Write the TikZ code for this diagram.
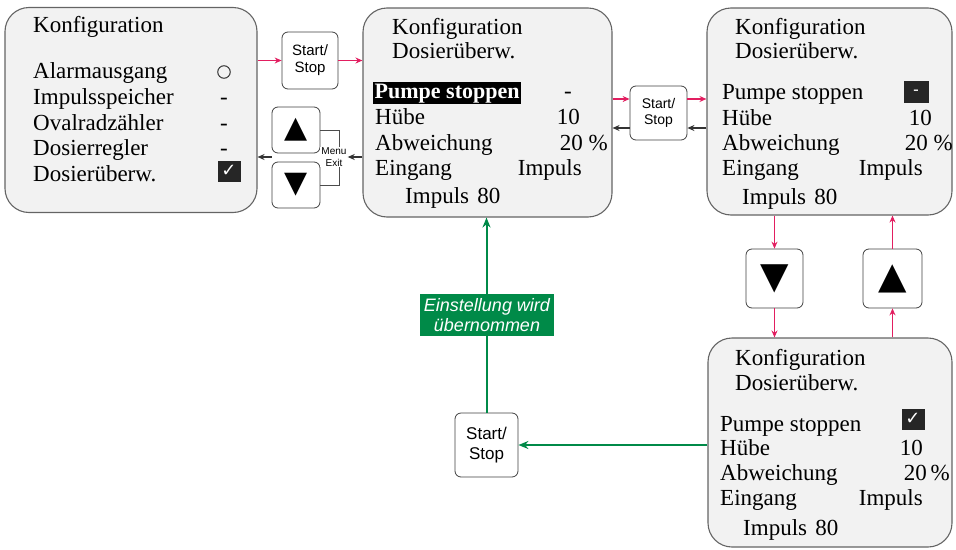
\documentclass[tikz,border=0pt]{standalone}
\usepackage{fontspec}
\setmainfont{Liberation Serif}
\setsansfont{Liberation Sans}
\newfontfamily\symfont{DejaVu Sans}
\usetikzlibrary{arrows.meta,positioning}
\definecolor{scrgray}{RGB}{242,242,242}
\definecolor{scrline}{RGB}{100,100,100}
\definecolor{keypink}{RGB}{226,30,96}
\definecolor{okgreen}{RGB}{0,138,72}

\begin{document}
\begin{tikzpicture}[x=1pt, y=-1pt,
    screen/.style={rectangle, rounded corners=24pt, draw=scrline, fill=scrgray, line width=1.1pt, inner sep=0pt},
    key/.style={rectangle, rounded corners=6pt, draw=black!75, fill=white, line width=0.8pt, inner sep=0pt, align=center, font=\sffamily\fontsize{15}{17}\selectfont},
    arrowkey/.style={key, font=\symfont\fontsize{30}{30}\selectfont},
    ln/.style={anchor=base west, inner sep=0pt, font=\fontsize{23}{25}\selectfont},
    vl/.style={anchor=base east, inner sep=0pt, font=\fontsize{23}{25}\selectfont},
    mid/.style={anchor=base, inner sep=0pt, font=\fontsize{23}{25}\selectfont},
    flag/.style={rectangle, fill=black!85, minimum width=23pt, minimum height=21pt, inner sep=0pt, text=white, font=\symfont\fontsize{18}{18}\selectfont},
    pk/.style={-{Stealth[length=7pt, width=6pt]}, line width=1.1pt, keypink},
    bk/.style={-{Stealth[length=7pt, width=6pt]}, line width=1.1pt, black!80},
    gr/.style={-{Stealth[length=10pt, width=8pt]}, line width=2pt, okgreen}
  ]
    \useasboundingbox (0,0) rectangle (956,549);

    % screens
    \node[screen, minimum width=252pt, minimum height=205pt] (s1) at (131,110) {};
    \node[screen, minimum width=249pt, minimum height=209pt] (s2) at (487.5,112.5) {};
    \node[screen, minimum width=245pt, minimum height=207pt] (s3) at (829.5,111.5) {};
    \node[screen, minimum width=244pt, minimum height=209pt] (s4) at (830,442.5) {};

    % screen 1
    \node[ln] (s1t) at (33,32) {Konfiguration};
    \node[ln] (s1a) at (33,78) {Alarmausgang};
    \node[ln] (s1b) at (33,104) {Impulsspeicher};
    \node[ln] (s1c) at (33,130) {Ovalradzähler};
    \node[ln] (s1d) at (33,155) {Dosierregler};
    \node[ln] (s1e) at (33,181) {Dosierüberw.};
    \node[circle, draw=black!80, line width=1pt, minimum size=12.5pt, inner sep=0pt] (s1av) at (224,72) {};
    \node[mid] (s1bv) at (224,104) {-};
    \node[mid] (s1cv) at (224,130) {-};
    \node[mid] (s1dv) at (224,155) {-};
    \node[flag] (s1ev) at (229,171) {✓};

    % screen 2
    \node[ln] (s2t) at (392,34) {Konfiguration};
    \node[ln] (s2u) at (392,58) {Dosierüberw.};
    \node[ln, fill=black, text=white, inner sep=1.5pt, font=\bfseries\fontsize{22}{25}\selectfont] (s2a) at (373,98) {Pumpe stoppen};
    \node[mid] (s2av) at (568,98) {-};
    \node[ln] (s2b) at (375,124) {Hübe};
    \node[vl] (s2bv) at (580,124) {10};
    \node[ln] (s2c) at (375,150) {Abweichung};
    \node[vl] (s2cv) at (608,150) {20 \%};
    \node[ln] (s2d) at (375,175) {Eingang};
    \node[vl] (s2dv) at (582,175) {Impuls};
    \node[ln] (s2e) at (405,203) {Impuls\hspace{2.5pt} 80};

    % screen 3
    \node[ln] (s3t) at (735,34) {Konfiguration};
    \node[ln] (s3u) at (735,58) {Dosierüberw.};
    \node[ln] (s3a) at (722,99) {Pumpe stoppen};
    \node[flag, minimum width=25pt, minimum height=22pt, font=\bfseries\fontsize{16}{16}\selectfont] (s3av) at (916,92) {-};
    \node[ln] (s3b) at (722,125) {Hübe};
    \node[vl] (s3bv) at (932,125) {10};
    \node[ln] (s3c) at (722,150) {Abweichung};
    \node[vl] (s3cv) at (953,150) {20 \%};
    \node[ln] (s3d) at (722,175) {Eingang};
    \node[vl] (s3dv) at (923,175) {Impuls};
    \node[ln] (s3e) at (742,204) {Impuls\hspace{2.5pt} 80};

    % screen 4
    \node[ln] (s4t) at (735,365) {Konfiguration};
    \node[ln] (s4u) at (735,390) {Dosierüberw.};
    \node[ln] (s4a) at (720,431) {Pumpe stoppen};
    \node[flag] (s4av) at (913,419) {✓};
    \node[ln] (s4b) at (720,455) {Hübe};
    \node[vl] (s4bv) at (923,455) {10};
    \node[ln] (s4c) at (720,480) {Abweichung};
    \node[vl] (s4cv) at (950,480) {20\,\%};
    \node[ln] (s4d) at (720,505) {Eingang};
    \node[vl] (s4dv) at (923,505) {Impuls};
    \node[ln] (s4e) at (743,535) {Impuls\hspace{2.5pt} 80};

    % keys
    \node[key, minimum width=56pt, minimum height=57pt] (ss1) at (310,60.5) {Start/\\Stop};
    \node[arrowkey, minimum width=48pt, minimum height=46pt] (up1) at (296,130) {▲};
    \node[arrowkey, minimum width=48pt, minimum height=46pt] (dn1) at (296,185) {▼};
    \node[key, minimum width=57pt, minimum height=54pt, font=\sffamily\fontsize{14}{16}\selectfont] (ss2) at (658.5,113) {Start/\\Stop};
    \node[arrowkey, minimum width=57pt, minimum height=59pt, font=\symfont\fontsize{37}{37}\selectfont] (dn2) at (774.5,278.5) {▼};
    \node[arrowkey, minimum width=59pt, minimum height=59pt, font=\symfont\fontsize{37}{37}\selectfont] (up2) at (892.5,278.5) {▲};
    \node[key, minimum width=63pt, minimum height=64pt, font=\sffamily\fontsize{17}{20}\selectfont] (ss3) at (486.5,445) {Start/\\Stop};

    % menu / exit bracket
    \draw[black!70, line width=0.8pt] (up1.east) -- ++(19,0) |- (dn1.east);
    \node[fill=white, inner sep=1pt, align=center, font=\sffamily\fontsize{10}{12}\selectfont] (menu) at (334,157) {Menu\\Exit};

    % connectors
    \draw[pk] (s1.east |- ss1.west) -- (ss1.west);
    \draw[pk] (ss1.east) -- (s2.west |- ss1.east);
    \draw[bk] (s2.west |- menu) -- (menu.east);
    \draw[bk] (up1.south west |- menu) -- (s1.east |- menu);
    \coordinate (ss2p) at ([yshift=14pt]ss2.center);
    \coordinate (ss2k) at ([yshift=-15pt]ss2.center);
    \draw[pk] (s2.east |- ss2p) -- (ss2.west |- ss2p);
    \draw[pk] (ss2.east |- ss2p) -- (s3.west |- ss2p);
    \draw[bk] (s3.west |- ss2k) -- (ss2.east |- ss2k);
    \draw[bk] (ss2.west |- ss2k) -- (s2.east |- ss2k);
    \draw[pk] (s3.south -| dn2.north) -- (dn2.north);
    \draw[pk] (dn2.south) -- (s4.north -| dn2.south);
    \draw[pk] (s4.north -| up2.south) -- (up2.south);
    \draw[pk] (up2.north) -- (s3.south -| up2.north);
    \draw[gr] (s4.west |- ss3) -- (ss3.east);
    \draw[gr] (ss3.north) -- (s2.south -| ss3.north);
    \node[fill=okgreen, text=white, align=center, inner sep=4pt, font=\sffamily\itshape\fontsize{18}{20}\selectfont] (note) at (487,315) {Einstellung wird\\übernommen};
  \end{tikzpicture}
\end{document}
